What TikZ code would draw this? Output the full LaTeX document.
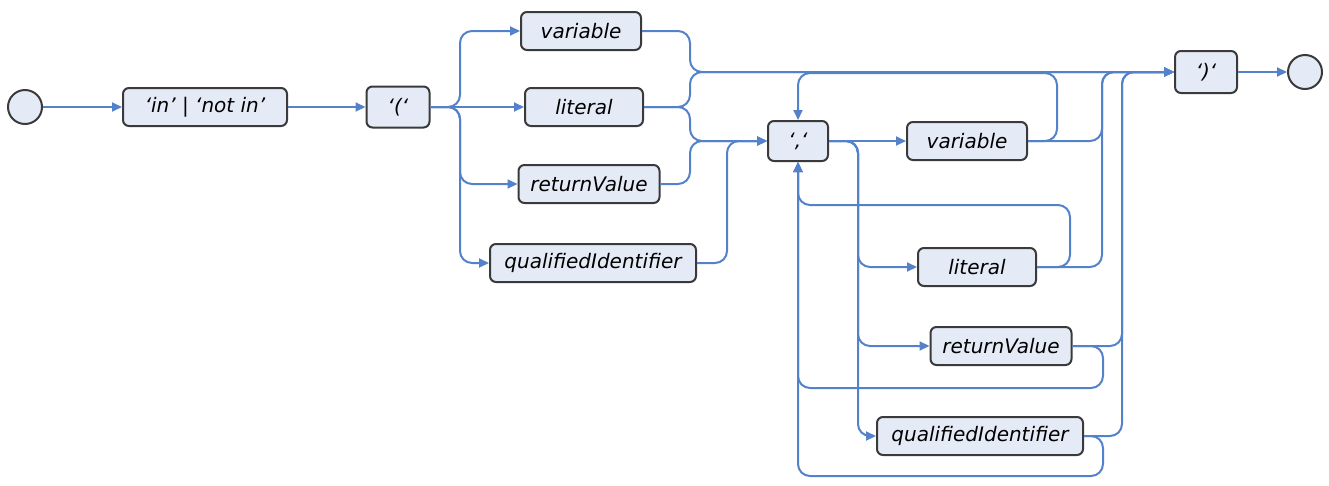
\documentclass[tikz,border=0pt]{standalone}
\usepackage{fontspec}
\setmainfont{DejaVu Sans}
\usetikzlibrary{arrows.meta}
\definecolor{railblue}{RGB}{84,130,202}
\definecolor{boxfill}{RGB}{229,235,246}
\definecolor{boxline}{RGB}{58,58,58}

\begin{document}
\begin{tikzpicture}[x=1pt, y=-1pt, >={Triangle[length=10pt, width=9pt]},
	every node/.style={font=\fontsize{20}{23}\selectfont\itshape},
	term/.style={draw=boxline, line width=2pt, fill=boxfill, rounded corners=6pt, minimum height=38pt, inner sep=0pt},
	endpoint/.style={draw=boxline, line width=2pt, fill=boxfill, circle, minimum size=34pt, inner sep=0pt},
	rail/.style={draw=railblue, line width=2pt, rounded corners=12pt}]
	\useasboundingbox (0,0) rectangle (1329,485);
	% boxes
	\node[endpoint] (start) at (25,107) {};
	\node[term, minimum width=164pt] (inop) at (205,107) {‘in’ | ‘not in’};
	\node[term, minimum width=63pt, minimum height=41pt] (lpar) at (398,107) {‘(‘};
	\node[term, minimum width=120pt] (var1) at (581,31) {variable};
	\node[term, minimum width=118pt] (lit1) at (584,107) {literal};
	\node[term, minimum width=141pt] (ret1) at (589,184) {returnValue};
	\node[term, minimum width=206pt] (qid1) at (593,263) {qualifiedIdentifier};
	\node[term, minimum width=60pt, minimum height=40pt] (comma) at (798,141) {‘,‘};
	\node[term, minimum width=120pt] (var2) at (967,141) {variable};
	\node[term, minimum width=118pt] (lit2) at (977,267) {literal};
	\node[term, minimum width=141pt] (ret2) at (1001,346) {returnValue};
	\node[term, minimum width=206pt] (qid2) at (980,436) {qualifiedIdentifier};
	\node[term, minimum width=62pt, minimum height=42pt] (rpar) at (1206,72) {‘)‘};
	\node[endpoint] (stop) at (1305,72) {};
	% junction points
	\coordinate (fork1) at (460,107);
	\coordinate (up1) at (690,72);
	\coordinate (dn1) at (690,141);
	\coordinate (qj) at (727,141);
	\coordinate (fork2) at (858,141);
	\coordinate (up2) at (1102,72);
	\coordinate (up3) at (1122,72);
	\coordinate (lp1) at (1057,73);
	\coordinate (lp2) at (1070,205);
	\coordinate (lp3) at (1103,388);
	\coordinate (lp4) at (1103,476);
	% rails
	\draw[rail, ->] (start) -- (inop);
	\draw[rail, ->] (inop) -- (lpar);
	\draw[rail, ->] (lpar.east) -- (fork1) |- (var1.west);
	\draw[rail, ->] (lpar) -- (lit1);
	\draw[rail, ->] (lpar.east) -- (fork1) |- (ret1.west);
	\draw[rail, ->] (lpar.east) -- (fork1) |- (qid1.west);
	\draw[rail, ->] (var1.east) -| (up1) -- (rpar.west);
	\draw[rail, ->] (lit1.east) -| (up1) -- (rpar.west);
	\draw[rail, ->] (lit1.east) -| (dn1) -- (comma.west);
	\draw[rail, ->] (ret1.east) -| (dn1) -- (comma.west);
	\draw[rail, ->] (qid1.east) -| (qj) -- (comma.west);
	\draw[rail, ->] (comma) -- (var2);
	\draw[rail, ->] (comma.east) -- (fork2) |- (lit2.west);
	\draw[rail, ->] (comma.east) -- (fork2) |- (ret2.west);
	\draw[rail, ->] (comma.east) -- (fork2) |- (qid2.west);
	\draw[rail, ->] (var2.east) -| (up2) -- (rpar.west);
	\draw[rail, ->] (lit2.east) -| (up2) -- (rpar.west);
	\draw[rail, ->] (ret2.east) -| (up3) -- (rpar.west);
	\draw[rail, ->] (qid2.east) -| (up3) -- (rpar.west);
	\draw[rail, ->] (var2.east) -| (lp1) -| (comma.north);
	\draw[rail, ->] (lit2.east) -| (lp2) -| (comma.south);
	\draw[rail, ->] (ret2.east) -| (lp3) -| (comma.south);
	\draw[rail, ->] (qid2.east) -| (lp4) -| (comma.south);
	\draw[rail, ->] (rpar) -- (stop);
\end{tikzpicture}
\end{document}
